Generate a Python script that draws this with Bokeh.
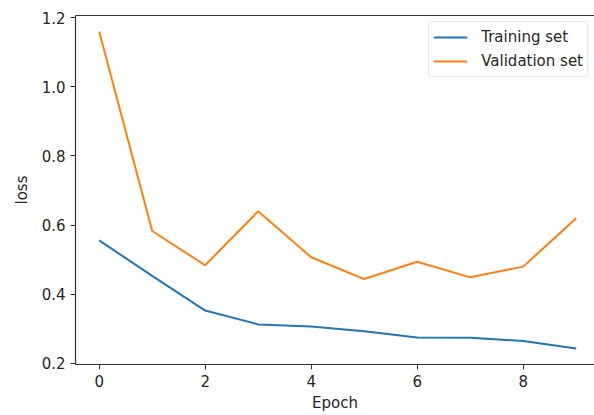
from bokeh.plotting import figure
from bokeh.models import FixedTicker, PrintfTickFormatter, LinearAxis, Range1d, Legend, LegendItem
from bokeh.embed import file_html
from bokeh.resources import INLINE

epochs = [0, 1, 2, 3, 4, 5, 6, 7, 8, 9]
train_loss = [0.556, 0.453, 0.353, 0.313, 0.307, 0.293, 0.275, 0.274, 0.265, 0.243]
val_loss = [1.160, 0.583, 0.484, 0.640, 0.507, 0.444, 0.494, 0.449, 0.480, 0.620]
x_ticks = [0, 2, 4, 6, 8]
y_ticks = [0.2, 0.4, 0.6, 0.8, 1.0, 1.2]

FONT = "DejaVu Sans"
TXT = "#262626"

p = figure(width=594, height=415, output_backend="svg", toolbar_location=None,
           x_range=Range1d(-0.447, 9.345), y_range=Range1d(0.197, 1.206),
           min_border_left=75, min_border_top=15, min_border_bottom=51, min_border_right=0)
p.outline_line_color = None
p.grid.visible = False
p.background_fill_color = "white"

l1 = p.line(epochs, train_loss, line_color="#1f77b4", line_width=2)
l2 = p.line(epochs, val_loss, line_color="#ff7f0e", line_width=2)

for ax in (p.xaxis[0], p.yaxis[0]):
    ax.axis_line_color = "#333333"
    ax.axis_line_width = 1.2
    ax.major_tick_line_color = "#333333"
    ax.major_tick_out = 5
    ax.major_tick_in = 0
    ax.minor_tick_out = 0
    ax.minor_tick_in = 0
    ax.major_label_text_font = FONT
    ax.major_label_text_font_size = "15px"
    ax.major_label_text_color = TXT
    ax.axis_label_text_font = FONT
    ax.axis_label_text_font_size = "15px"
    ax.axis_label_text_font_style = "normal"
    ax.axis_label_text_color = TXT
    ax.major_label_standoff = 5

p.xaxis[0].ticker = FixedTicker(ticks=x_ticks)
p.xaxis[0].axis_label = "Epoch"
p.xaxis[0].axis_label_standoff = 4
p.yaxis[0].ticker = FixedTicker(ticks=y_ticks)
p.yaxis[0].formatter = PrintfTickFormatter(format="%.1f")
p.yaxis[0].axis_label = "loss"
p.yaxis[0].axis_label_standoff = 8

top = LinearAxis(ticker=FixedTicker(ticks=[]), axis_line_color="#333333", axis_line_width=1.2,
                 major_tick_out=0, major_tick_in=0, minor_tick_out=0, minor_tick_in=0,
                 major_label_standoff=0, major_label_text_font_size="0px")
p.add_layout(top, "above")

legend = Legend(items=[LegendItem(label="Training set", renderers=[l1]),
                       LegendItem(label="Validation set", renderers=[l2])],
                location="top_right")
legend.label_text_font = FONT
legend.label_text_font_size = "15px"
legend.label_text_color = TXT
legend.glyph_width = 34
legend.glyph_height = 22
legend.label_height = 22
legend.label_standoff = 14
legend.spacing = 2
legend.padding = 4
legend.margin = 6
legend.border_line_color = "#cccccc"
legend.border_line_width = 1
legend.background_fill_alpha = 0.8
legend.border_radius = 3
p.add_layout(legend)

open("out.html", "w").write(file_html(p, INLINE))
